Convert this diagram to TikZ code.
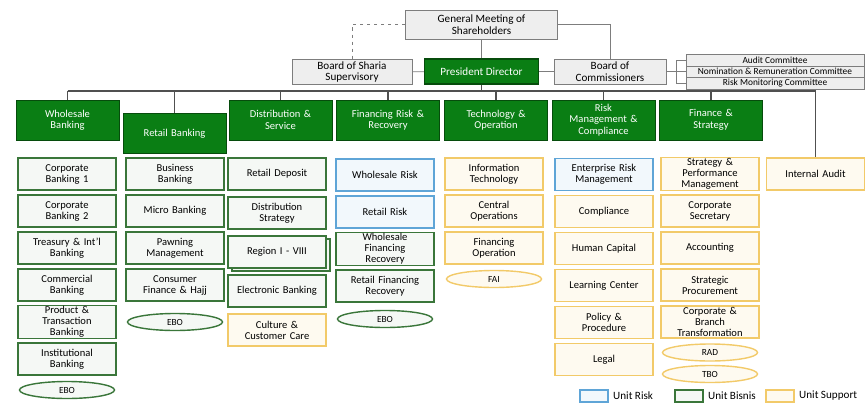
\documentclass[tikz,border=0pt]{standalone}
\usepackage{fontspec}
\setmainfont{Carlito}
\usetikzlibrary{positioning,shapes.geometric}
\definecolor{forest}{RGB}{10,126,20}
\definecolor{bisnis}{RGB}{58,118,58}
\definecolor{riskblue}{RGB}{95,165,215}
\definecolor{support}{RGB}{242,202,105}
\definecolor{boardline}{RGB}{125,125,125}
\definecolor{boardfill}{RGB}{238,238,238}
\definecolor{wire}{RGB}{80,80,80}
\tikzset{
  board/.style={draw=boardline,fill=boardfill,align=center,inner sep=1pt,font=\fontsize{9.5}{10}\selectfont},
  head/.style={draw=forest!60!black,fill=forest,text=white,align=center,text width=29mm,minimum width=30.9mm,minimum height=12mm,inner sep=1pt,font=\fontsize{9}{9.8}\selectfont},
  unit/.style={line width=1.2pt,align=center,text width=28mm,minimum width=29.4mm,minimum height=9.6mm,inner sep=1pt,font=\fontsize{9}{9.4}\selectfont},
  ubisnis/.style={unit,draw=bisnis,fill=bisnis!5},
  urisk/.style={unit,draw=riskblue,fill=riskblue!8},
  usupport/.style={unit,draw=support,fill=support!10},
  office/.style={ellipse,line width=1.2pt,minimum width=28.5mm,minimum height=5.1mm,inner sep=0pt,font=\fontsize{8}{8.5}\selectfont},
  committee/.style={draw=boardline,fill=boardfill,minimum width=53.4mm,minimum height=3.45mm,inner sep=0pt,font=\fontsize{8}{8.5}\selectfont},
  link/.style={draw=boardline,line width=0.7pt},
  bus/.style={draw=wire,line width=1.3pt},
  legend/.style={line width=1.1pt,minimum width=8.4mm,minimum height=3.6mm,inner sep=0pt},
  legtext/.style={inner sep=0pt,font=\fontsize{9.5}{10}\selectfont}
}

\begin{document}
\begin{tikzpicture}[x=0.3mm,y=-0.3mm]
  \useasboundingbox (0,0) rectangle (866,406);
  \node[board,minimum width=45.6mm,minimum height=8.7mm] (gms) at (481.5,24.5) {General Meeting of\\Shareholders};
  \node[board,minimum width=36mm,minimum height=7.5mm] (bss) at (352,72) {Board of Sharia\\Supervisory};
  \node[board,fill=forest,text=white,draw=forest!60!black,line width=1pt,minimum width=34.2mm,minimum height=7.5mm] (pd) at (481.5,71.5) {President Director};
  \node[board,minimum width=33.6mm,minimum height=7.5mm] (boc) at (610,71.5) {Board of\\Commissioners};
  \foreach \t [count=\i] in {Audit Committee,Nomination \& Remuneration Committee,Risk Monitoring Committee}
    \node[committee] (cm\i) at (775,48.5+11.5*\i) {\t};

  \draw[link,dashed] (gms.west) -| (bss.north);
  \draw[link] (gms.east) -| (boc.north);
  \draw[link] (gms) -- (pd);
  \draw[link] (bss) -- (pd);
  \draw[link] (pd) -- (boc);
  \coordinate (cb) at (676,71.5);
  \draw[link] (boc.east) -- (cb);
  \draw[link] (cb |- cm1) -- (cb |- cm3);
  \foreach \i in {1,2,3} \draw[link] (cb |- cm\i) -- (cm\i.west);

  \foreach \t/\x/\y [count=\i from 0] in {Wholesale\\Banking/67.5/120, Retail Banking/174.5/133.5,
      Distribution \&\\Service/280.5/120, Financing Risk \&\\Recovery/388/120, Technology \&\\Operation/496/120,
      Risk\\Management \&\\Compliance/603.5/120, Finance \&\\Strategy/711/120}
    \node[head] (h\i) at (\x,\y) {\t};
  \node[usupport] (ia) at (815.5,174) {Internal Audit};

  \coordinate (bus) at (481.5,91);
  \draw[bus] (pd.south) -- (pd.south |- bus);
  \draw[bus] (h0.north |- bus) -| (ia.north);
  \foreach \i in {0,...,6} \draw[bus] (h\i.north |- bus) -- (h\i.north);

  \foreach \t/\k [count=\i from 0] in {Corporate\\Banking 1/ubisnis, Corporate\\Banking 2/ubisnis,
      Treasury \& Int'l\\Banking/ubisnis, Commercial\\Banking/ubisnis, Product \&\\Transaction\\Banking/ubisnis,
      Institutional\\Banking/ubisnis}
    \node[\k] (a\i) at (67,174+37*\i) {\t};
  \node[office,draw=bisnis,fill=bisnis!5] (aebo) at (67,390) {EBO};

  \foreach \t/\k [count=\i from 0] in {Business\\Banking/ubisnis, Micro Banking/ubisnis,
      Pawning\\Management/ubisnis, Consumer\\Finance \& Hajj/ubisnis}
    \node[\k] (b\i) at (175,174+37*\i) {\t};
  \node[office,draw=bisnis,fill=bisnis!5] (bebo) at (175,322) {EBO};

  \node[ubisnis] (cback) at (281,255) {};
  \foreach \t/\k [count=\i from 0] in {Retail Deposit/ubisnis, Distribution\\Strategy/ubisnis,
      Region I - VIII/ubisnis, Electronic Banking/ubisnis, Culture \&\\Customer Care/usupport}
    \node[\k] (c\i) at (277,174+39*\i) {\t};

  \foreach \t/\k [count=\i from 0] in {Wholesale Risk/urisk, Retail Risk/urisk,
      Wholesale\\Financing\\Recovery/ubisnis, Retail Financing\\Recovery/ubisnis}
    \node[\k] (d\i) at (385,175+37*\i) {\t};
  \node[office,draw=bisnis,fill=bisnis!5] (debo) at (385,319) {EBO};

  \foreach \t/\k [count=\i from 0] in {Information\\Technology/usupport, Central\\Operations/usupport,
      Financing\\Operation/usupport}
    \node[\k] (e\i) at (494,174+37*\i) {\t};
  \node[office,draw=support,fill=support!10] (efai) at (494,279) {FAI};

  \foreach \t/\k [count=\i from 0] in {Enterprise Risk\\Management/urisk, Compliance/usupport,
      Human Capital/usupport, Learning Center/usupport, Policy \&\\Procedure/usupport, Legal/usupport}
    \node[\k] (f\i) at (604,174.5+37*\i) {\t};

  \foreach \t/\k [count=\i from 0] in {Strategy \&\\Performance\\Management/usupport, Corporate\\Secretary/usupport,
      Accounting/usupport, Strategic\\Procurement/usupport, Corporate \&\\Branch\\Transformation/usupport}
    \node[\k] (g\i) at (710,174+37*\i) {\t};
  \node[office,draw=support,fill=support!10] (grad) at (710,352.5) {RAD};
  \node[office,draw=support,fill=support!10] (gtbo) at (710,374) {TBO};

  \node[legend,draw=riskblue,fill=riskblue!8] (lr) at (594,396) {};
  \node[legtext,right=1.3mm of lr] (lrt) {Unit Risk};
  \node[legend,draw=bisnis,fill=bisnis!5] (lb) at (689,396) {};
  \node[legtext,right=1.3mm of lb] (lbt) {Unit Bisnis};
  \node[legend,draw=support,fill=support!10] (ls) at (780,396) {};
  \node[legtext,right=1.3mm of ls] (lst) {Unit Support};
\end{tikzpicture}
\end{document}
